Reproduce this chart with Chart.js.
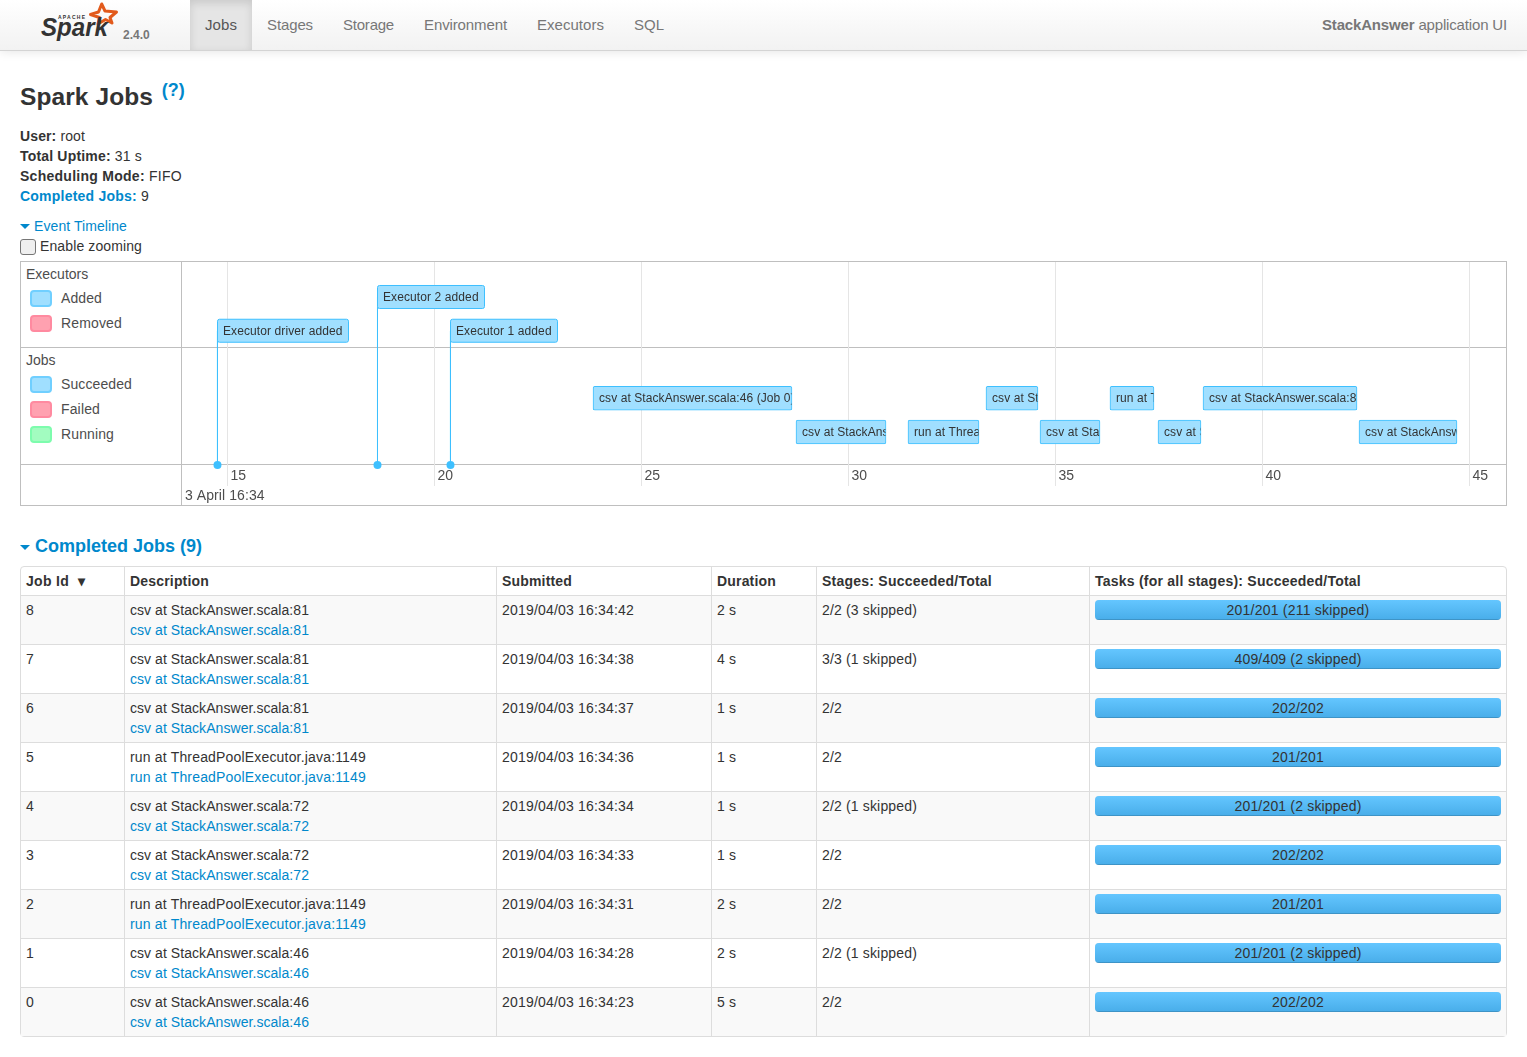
<!DOCTYPE html>
<html><head><meta charset="utf-8"><title>Spark Jobs</title>
<script src="https://cdn.jsdelivr.net/npm/chart.js@4"></script>
<style>
html,body{margin:0;padding:0;background:#fff;overflow:hidden;height:1057px}
body{font:14px/20px "Liberation Sans",Arial,sans-serif;color:#333;position:relative;width:1527px}
a{color:#0088cc;text-decoration:none}
.nav{position:absolute;left:0;top:0;width:1527px;height:50px;background:linear-gradient(#fff,#f2f2f2);border-bottom:1px solid #d4d4d4;box-shadow:0 1px 10px rgba(0,0,0,.1);font-size:15px}
.tabs{position:absolute;left:190px;top:0;height:50px;display:flex}
.tabs>span{padding:0 15px;line-height:50px;color:#777;white-space:nowrap;box-sizing:border-box}
.tabs>span.on{color:#555;background:#e5e5e5;box-shadow:inset 0 3px 8px rgba(0,0,0,.125)}
.app{position:absolute;right:20px;top:0;line-height:50px;color:#777;white-space:nowrap}
.ver{position:absolute;left:123px;top:25px;font-size:12px;font-weight:bold;color:#777;line-height:20px}
.logo{position:absolute;left:36px;top:0}
.abs{position:absolute;white-space:nowrap}
h3{margin:0;position:absolute;left:20px;top:80px;font-size:24.5px;line-height:34px;white-space:nowrap}
h3 sup{font-size:18px;line-height:0;position:relative;vertical-align:baseline;top:-9px;margin-left:2px}
.caret{position:absolute;width:0;height:0;border:5px solid transparent;border-top-color:#0088cc;border-bottom:0}
.cb{position:absolute;left:20px;top:239px;width:14px;height:14px;border:1px solid #767676;border-radius:3px;background:#efefef}
.frame{position:absolute;left:20px;top:261px;width:1485px;height:243px;border:1px solid #bfbfbf}
.hl{position:absolute;left:20px;width:1487px;height:1px;background:#bfbfbf}
.vl{position:absolute;left:181px;top:262px;width:1px;height:243px;background:#bfbfbf}
.sw{position:absolute;left:30px;width:18px;height:13px;border:2px solid;border-radius:4px}
#c{position:absolute;left:182px;top:262px}
h4{margin:0;position:absolute;left:35px;top:536px;font-size:18px;line-height:20px;color:#0088cc;white-space:nowrap}
table{position:absolute;left:20px;top:566px;width:1487px;border-collapse:separate;border-spacing:0;table-layout:fixed;border:1px solid #ddd;border-radius:4px;box-sizing:border-box}
th,td{padding:4px 5px;line-height:20px;text-align:left;vertical-align:top;border-left:1px solid #ddd;border-top:1px solid #ddd;font-weight:normal;box-sizing:border-box;white-space:nowrap}
th{font-weight:bold;border-top:0}
th:first-child,td:first-child{border-left:0}
tr:nth-child(odd) td{background:#f9f9f9}
.pb{height:20px;border-radius:4px;overflow:hidden;position:relative;background:#f5f5f5;box-shadow:inset 0 1px 2px rgba(0,0,0,.1)}
.pf{position:absolute;left:0;top:0;bottom:0;background:linear-gradient(#64c6ff,#48ade9);box-shadow:inset 0 -1px 0 rgba(0,0,0,.15)}
.pt{position:absolute;left:0;right:0;top:0;text-align:center;line-height:20px;color:#333}
.fit{display:inline-block}
</style></head><body>
<div class="nav">
<svg class="logo" width="90" height="44" viewBox="0 0 90 44">
<polygon points="65.7,4 69,11 80.5,12 74,17.5 76,23 69.5,19.5 62,24 63.5,17.5 54.5,14.5 62.5,12" fill="none" stroke="#e25a1c" stroke-width="3" stroke-linejoin="round"/>
<text x="5" y="36" font-family="Liberation Sans" font-size="25" font-style="italic" font-weight="bold" fill="#333" textLength="67" lengthAdjust="spacingAndGlyphs">Spark</text>
<text x="22" y="19" font-family="Liberation Sans" font-size="5" font-weight="bold" fill="#333" textLength="27">APACHE</text>
</svg>
<div class="ver">2.4.0</div>
<div class="tabs" id="tabs"></div>
<div class="app"><span class="fit" data-w="185"><b>StackAnswer</b> application UI</span></div>
</div>
<h3><span class="fit" data-w="133">Spark Jobs</span> <sup><a href="#">(?)</a></sup></h3>
<div class="abs" style="left:20px;top:126px"><span class="fit" data-w="65"><b>User:</b> root</span></div>
<div class="abs" style="left:20px;top:146px"><span class="fit" data-w="122"><b>Total Uptime:</b> 31 s</span></div>
<div class="abs" style="left:20px;top:166px"><span class="fit" data-w="162"><b>Scheduling Mode:</b> FIFO</span></div>
<div class="abs" style="left:20px;top:186px"><span class="fit" data-w="129"><a href="#"><b>Completed Jobs:</b></a> 9</span></div>
<div class="caret" style="left:20px;top:224px"></div>
<div class="abs" style="left:34px;top:216px"><a href="#"><span class="fit" data-w="93">Event Timeline</span></a></div>
<div class="cb"></div>
<div class="abs" style="left:40px;top:236px"><span class="fit" data-w="102">Enable zooming</span></div>
<div class="frame"></div>
<div class="hl" style="top:347px"></div>
<div class="hl" style="top:464px"></div>
<div class="vl"></div>
<div id="legend"></div>
<canvas id="c" width="1324" height="243"></canvas>
<div class="caret" style="left:20px;top:545px"></div>
<h4>Completed Jobs (9)</h4>
<table id="t"><colgroup>
<col style="width:103px"><col style="width:372px"><col style="width:215px"><col style="width:105px"><col style="width:273px"><col>
</colgroup><thead></thead><tbody></tbody></table>
<script>
const tabNames=["Jobs","Stages","Storage","Environment","Executors","SQL"];
const tabWidths=[32,46,51,83,67,30];
// legend groups
const legendGroups=[["Executors",["Added","Removed"]],["Jobs",["Succeeded","Failed","Running"]]];
// timeline axis, seconds within 16:34
const timeMin=13.901, timeMax=45.882, timeStep=5, dateLabel="3 April 16:34";
// executor events
const execNames=["Executor driver added","Executor 2 added","Executor 1 added"];
const execTimes=[14.758,18.623,20.386];
const execRows=[1,0,1];
// job spans
const jobNames=["csv at StackAnswer.scala:46 (Job 0)","csv at StackAnswer.scala:46 (Job 1)","run at ThreadPoolExecutor.java:1149 (Job 2)","csv at StackAnswer.scala:72 (Job 3)","csv at StackAnswer.scala:72 (Job 4)","run at ThreadPoolExecutor.java:1149 (Job 5)","csv at StackAnswer.scala:81 (Job 6)","csv at StackAnswer.scala:81 (Job 7)","csv at StackAnswer.scala:81 (Job 8)"];
const jobStart=[23.829,28.732,31.437,33.321,34.626,36.316,37.476,38.563,42.331];
const jobEnd=[28.635,30.906,33.152,34.577,36.075,37.379,38.514,42.283,44.698];
const jobRows=[3,4,4,3,4,3,4,3,4];
const axisRow=4.978;
// table
const headers=["Job Id &nbsp;▾","Description","Submitted","Duration","Stages: Succeeded/Total","Tasks (for all stages): Succeeded/Total"];
const headerWidths=[59,79,70,59,170,266];
const ids=[8,7,6,5,4,3,2,1,0];
const descs=["csv at StackAnswer.scala:81","csv at StackAnswer.scala:81","csv at StackAnswer.scala:81","run at ThreadPoolExecutor.java:1149","csv at StackAnswer.scala:72","csv at StackAnswer.scala:72","run at ThreadPoolExecutor.java:1149","csv at StackAnswer.scala:46","csv at StackAnswer.scala:46"];
const submitted=["2019/04/03 16:34:42","2019/04/03 16:34:38","2019/04/03 16:34:37","2019/04/03 16:34:36","2019/04/03 16:34:34","2019/04/03 16:34:33","2019/04/03 16:34:31","2019/04/03 16:34:28","2019/04/03 16:34:23"];
const durations=["2 s","4 s","1 s","1 s","1 s","1 s","2 s","2 s","5 s"];
const stages=["2/2 (3 skipped)","3/3 (1 skipped)","2/2","2/2","2/2 (1 skipped)","2/2","2/2","2/2 (1 skipped)","2/2"];
const tasksDone=[201,409,202,201,201,202,201,201,202];
const tasksTotal=[201,409,202,201,201,202,201,201,202];
const tasksSkipped=[211,2,0,0,2,0,0,2,0];

const fit=(s,w)=>`<span class="fit" data-w="${w}">${s}</span>`;
document.getElementById('tabs').innerHTML=tabNames.map((n,i)=>`<span class="${i?'':'on'}">${fit(n,tabWidths[i])}</span>`).join('');

// legend (left column)
const swatch={Added:['#a0dfff','#70cfff'],Removed:['#ffa1b0','#ff8aa0'],Succeeded:['#a0dfff','#70cfff'],Failed:['#ffa1b0','#ff8aa0'],Running:['#a2fcc0','#7dfcad']};
const legendWidths={Added:41,Removed:61,Succeeded:71,Failed:39,Running:53};
let lh='',y0=[264,350];
legendGroups.forEach((g,gi)=>{
  lh+=`<div class="abs" style="left:26px;top:${y0[gi]}px;color:#4d4d4d">${g[0]}</div>`;
  g[1].forEach((n,i)=>{
    const top=y0[gi]+26+i*25;
    lh+=`<div class="sw" style="top:${top}px;background:${swatch[n][0]};border-color:${swatch[n][1]}"></div>`;
    lh+=`<div class="abs" style="left:61px;top:${top-2}px;color:#4d4d4d">${fit(n,legendWidths[n])}</div>`;
  });
});
document.getElementById('legend').innerHTML=lh;

// table
const descW=s=>s.startsWith('run')?236:179;
const stageW=s=>s.length>3?95:20;
const T=document.getElementById('t');
T.tHead.innerHTML='<tr>'+headers.map((h,i)=>`<th>${fit(h,headerWidths[i])}</th>`).join('')+'</tr>';
T.tBodies[0].innerHTML=ids.map((id,i)=>{
  const pct=100*tasksDone[i]/tasksTotal[i];
  const lab=tasksDone[i]+'/'+tasksTotal[i]+(tasksSkipped[i]?` (${tasksSkipped[i]} skipped)`:'');
  const labW=tasksSkipped[i]>99?143:tasksSkipped[i]?127:52;
  return `<tr><td>${id}</td><td>${fit(descs[i],descW(descs[i]))}<br><a href="#">${fit(descs[i],descW(descs[i]))}</a></td><td>${fit(submitted[i],132)}</td><td>${fit(durations[i],19)}</td><td>${fit(stages[i],stageW(stages[i]))}</td><td><div class="pb"><div class="pf" style="width:${pct}%"></div><div class="pt">${fit(lab,labW)}</div></div></td></tr>`;
}).join('');

// match the reference's text run widths with a small letter-spacing
document.querySelectorAll('.fit').forEach(el=>{
  const nat=el.getBoundingClientRect().width, n=el.textContent.length;
  el.style.letterSpacing=((+el.dataset.w-nat)/n)+'px';
});

// timeline
const FONT='12px "Liberation Sans"';
const labelPlugin={id:'labels',afterDatasetsDraw(ch){
  const ctx=ch.ctx,xs=ch.scales.x,ys=ch.scales.y;
  ctx.save();ctx.font=FONT;ctx.textBaseline='middle';ctx.textAlign='left';ctx.letterSpacing='0.08px';
  // job labels, clipped to their bar
  ch.getDatasetMeta(0).data.forEach((b,i)=>{
    const l=Math.min(b.x,b.base),r=Math.max(b.x,b.base);
    ctx.save();ctx.beginPath();ctx.rect(l+1,b.y-12,r-l-1.5,24);ctx.clip();
    ctx.fillStyle='#333';ctx.fillText(jobNames[i],l+6,b.y+0.5);ctx.restore();
  });
  // executor boxes
  ctx.letterSpacing='0.1px';
  execNames.forEach((n,i)=>{
    const x=Math.round(xs.getPixelForValue(execTimes[i])-0.5),y=ys.getPixelForValue(execRows[i]);
    const w=Math.ceil(ctx.measureText(n).width)+12;
    ctx.beginPath();ctx.roundRect(x+.5,y-11.5,w-1,23,2);
    ctx.fillStyle='#a0dfff';ctx.strokeStyle='#3ec0ff';ctx.lineWidth=1;ctx.fill();ctx.stroke();
    ctx.fillStyle='#333';ctx.fillText(n,x+6,y+.5);
  });
  ctx.letterSpacing='0.08px';
  ctx.fillStyle='#4d4d4d';ctx.font='14px "Liberation Sans"';ctx.textBaseline='top';
  ctx.fillText(dateLabel,xs.left+3,227);
  ctx.restore();
}};
const execSets=execNames.map((n,i)=>({type:'scatter',label:n,showLine:true,clip:false,
  data:[{x:execTimes[i],y:execRows[i]},{x:execTimes[i],y:axisRow}],
  borderColor:'#3ec0ff',backgroundColor:'#3ec0ff',borderWidth:1,pointBorderWidth:0,pointRadius:[0,4]}));
new Chart(document.getElementById('c'),{
  type:'bar',
  plugins:[labelPlugin],
  data:{datasets:[
    {label:'Jobs',indexAxis:'y',data:jobNames.map((n,i)=>({x:[jobStart[i],jobEnd[i]],y:jobRows[i]})),
     backgroundColor:'#a0dfff',borderColor:'#3ec0ff',borderWidth:1,borderRadius:2,borderSkipped:false,barThickness:24},
    ...execSets]},
  options:{responsive:false,animation:false,devicePixelRatio:1,indexAxis:'y',
    layout:{padding:0,autoPadding:false},
    plugins:{legend:{display:false},tooltip:{enabled:false}},
    scales:{
      x:{type:'linear',min:timeMin,max:timeMax,position:'bottom',
        afterFit(s){s.height=40;s.paddingLeft=0;s.paddingRight=0;},
        border:{display:false},
        grid:{color:'#e5e5e5',tickLength:21,tickColor:'#e5e5e5'},
        ticks:{stepSize:timeStep,includeBounds:false,autoSkip:false,maxRotation:0,align:'start',labelOffset:3,padding:-18,
          color:'#4d4d4d',font:{family:'Liberation Sans',size:14},callback:v=>String(v)}},
      y:{type:'linear',reverse:true,display:false,offset:false,min:-1.037,max:4.978}
    }}
});
</script>
</body></html>
